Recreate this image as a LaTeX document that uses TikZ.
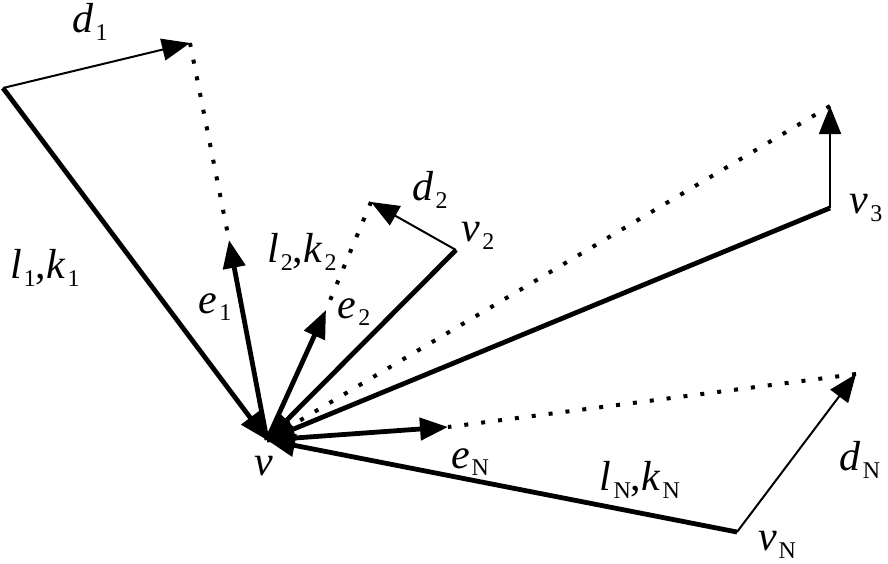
\documentclass[tikz,border=0pt]{standalone}
\usepackage{fontspec}
\setmainfont{Liberation Serif}
\usetikzlibrary{arrows.meta}
\newcommand\lab[2]{\textit{#1}\kern1pt\raisebox{-0.4ex}{\fontsize{12}{12}\selectfont #2}}
\begin{document}
\begin{tikzpicture}[x=0.5pt,y=-0.5pt,
  thickline/.style={line width=2.4pt},
  thinline/.style={line width=1pt},
  tip/.style={-{Triangle[length=14pt,width=11pt]}},
  dotline/.style={line width=2pt, dash pattern=on 2pt off 6.5pt},
  lbl/.style={font=\fontsize{21}{24}\selectfont, inner sep=0pt}]
\useasboundingbox (0,0) rectangle (888,563);
% points
\coordinate (v) at (267,440);
\coordinate (p1) at (3,88);
\coordinate (d1) at (190,43);
\coordinate (e1) at (229,240);
\coordinate (p2) at (456,250);
\coordinate (d2) at (371,202);
\coordinate (e2) at (326,310);
\coordinate (p3) at (830,208);
\coordinate (d3) at (830,106);
\coordinate (pN) at (737,532);
\coordinate (dN) at (856,374);
\coordinate (eN) at (448,427);
% dotted
\draw[dotline] (d1) -- (e1);
\draw[dotline] (d2) -- (e2);
\draw[dotline] (d3) -- (v);
\draw[dotline] (dN) -- (eN);
% d arrows
\draw[thinline,tip] (p1) -- (d1);
\draw[thinline,tip] (p2) -- (d2);
\draw[thinline,tip] (p3) -- (d3);
\draw[thinline,tip] (pN) -- (dN);
% links to v
\draw[thickline,tip] (p1) -- (v);
\draw[thickline,tip] (p2) -- (v);
\draw[thickline,tip] (p3) -- (v);
\draw[thickline,tip] (pN) -- (v);
% e arrows
\draw[thickline,tip] (v) -- (e1);
\draw[thickline,tip] (v) -- (e2);
\draw[thickline,tip] (v) -- (eN);
% labels
\node[lbl] (ld1) at (90,22) {\lab{d}{1}};
\node[lbl] (ll1) at (45,268) {\textit{l}\kern1pt\raisebox{-0.4ex}{\fontsize{12}{12}\selectfont 1},\lab{k}{1}};
\node[lbl] (le1) at (215,307) {\lab{e}{1}};
\node[lbl] (ll2) at (302,252) {\textit{l}\kern1pt\raisebox{-0.4ex}{\fontsize{12}{12}\selectfont 2},\lab{k}{2}};
\node[lbl] (le2) at (354,312) {\lab{e}{2}};
\node[lbl] (ld2) at (430,190) {\lab{d}{2}};
\node[lbl] (lv2) at (478,236) {\lab{v}{2}};
\node[lbl] (lv3) at (866,208) {\lab{v}{3}};
\node[lbl] (lv) at (264,466) {\textit{v}};
\node[lbl] (leN) at (470,462) {\lab{e}{N}};
\node[lbl] (llN) at (640,480) {\textit{l}\kern1pt\raisebox{-0.4ex}{\fontsize{12}{12}\selectfont N},\lab{k}{N}};
\node[lbl] (ldN) at (860,460) {\lab{d}{N}};
\node[lbl] (lvN) at (777,545) {\lab{v}{N}};
\end{tikzpicture}
\end{document}
